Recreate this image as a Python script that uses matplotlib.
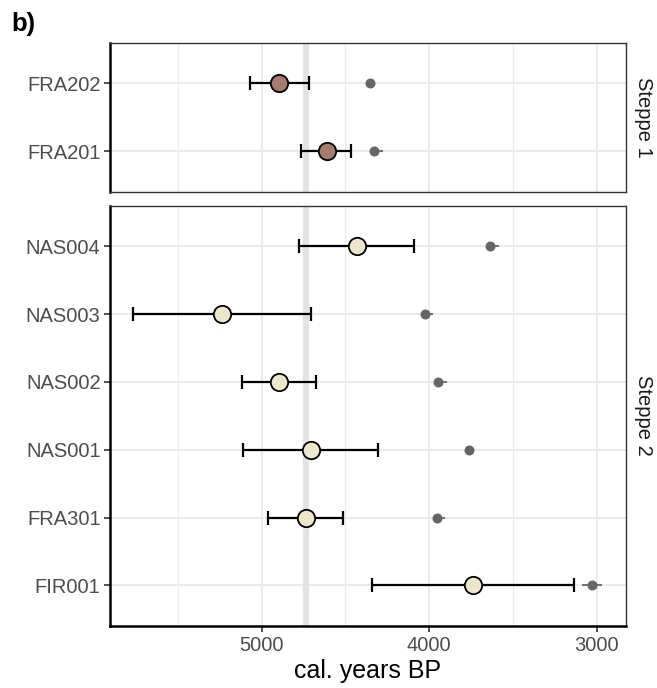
import matplotlib
matplotlib.use("Agg")
import matplotlib.pyplot as plt

plt.rcParams["font.family"] = ["Liberation Sans", "DejaVu Sans"]

# ---------- data ----------
steppe1_ids  = ["FRA202", "FRA201"]
steppe1_mean = [4894, 4610]
steppe1_lo   = [5070, 4753]
steppe1_hi   = [4718, 4456]
steppe1_grey = [4353, 4328]
steppe1_grey_lo = [4360, 4340]
steppe1_grey_hi = [4322, 4277]

steppe2_ids  = ["NAS004", "NAS003", "NAS002", "NAS001", "FRA301", "FIR001"]
steppe2_mean = [4433, 5236, 4897, 4706, 4737, 3740]
steppe2_lo   = [4778, 5767, 5117, 5109, 4957, 4345]
steppe2_hi   = [4086, 4706, 4675, 4301, 4513, 3136]
steppe2_grey = [3640, 4028, 3950, 3761, 3956, 3027]
steppe2_grey_lo = [3650, 4035, 3960, 3770, 3965, 3089]
steppe2_grey_hi = [3586, 3977, 3895, 3750, 3907, 2966]

ref_line = 4738
x_major = [5000, 4000, 3000]
x_minor = [5500, 4500, 3500]

FILL1 = "#A67B70"; FILL2 = "#EDE6CD"; GREYPT = "#666666"
GRID = "#EBEBEB"; TXT = "#4D4D4D"

W, H = 657, 688
fig = plt.figure(figsize=(W/100, H/100), dpi=100)

def px_axes(x0, y0, x1, y1):
    return fig.add_axes([x0/W, 1 - y1/H, (x1-x0)/W, (y1-y0)/H])

ax1 = px_axes(110.3, 42.7, 625.7, 191.7)
ax2 = px_axes(110.3, 205.7, 625.7, 626.0)

def panel(ax, ids, mean, lo, hi, grey, glo, ghi, fill, strip):
    n = len(ids)
    ys = list(range(n))
    ax.set_xlim(5904, 2827)
    ax.set_ylim(n - 1 + 0.6, -0.6)
    for v in x_minor:
        ax.axvline(v, color=GRID, lw=0.8, zorder=0)
    for v in x_major:
        ax.axvline(v, color=GRID, lw=1.4, zorder=0)
    for y in ys:
        ax.axhline(y, color=GRID, lw=1.4, zorder=0)
    ax.axvline(ref_line, color="#E3E3E3", lw=4.5, zorder=1)
    # grey points with small ranges
    for y, a, b in zip(ys, glo, ghi):
        ax.plot([a, b], [y, y], color=GREYPT, lw=1.3, zorder=2, solid_capstyle="butt")
    ax.plot(grey, ys, "o", color=GREYPT, ms=7.2, mec="none", zorder=3)
    # calibrated ranges
    xerr = [[l - m for m, l in zip(mean, lo)], [m - h for m, h in zip(mean, hi)]]
    ax.errorbar(mean, ys, xerr=xerr, fmt="none", ecolor="black", elinewidth=1.6,
                capsize=5.3, capthick=1.6, zorder=4)
    ax.plot(mean, ys, "o", ms=12.5, mfc=fill, mec="black", mew=1.3, zorder=5)
    ax.set_yticks(ys)
    ax.set_yticklabels(ids, fontsize=14.5, color=TXT)
    ax.tick_params(axis="y", length=4, width=1.2, color="#333333", pad=3)
    ax.spines["left"].set_linewidth(1.8); ax.spines["left"].set_color("black")
    for s in ["top", "right"]:
        ax.spines[s].set_linewidth(1.0); ax.spines[s].set_color("#333333")
    ax.text(1.035, 0.5, strip, transform=ax.transAxes, rotation=-90,
            ha="center", va="center", fontsize=14.5, color="#1A1A1A")

panel(ax1, steppe1_ids, steppe1_mean, steppe1_lo, steppe1_hi, steppe1_grey,
      steppe1_grey_lo, steppe1_grey_hi, FILL1, "Steppe 1")
panel(ax2, steppe2_ids, steppe2_mean, steppe2_lo, steppe2_hi, steppe2_grey,
      steppe2_grey_lo, steppe2_grey_hi, FILL2, "Steppe 2")

ax1.set_xticks(x_major); ax1.tick_params(axis="x", length=0, labelbottom=False)
ax1.spines["bottom"].set_linewidth(1.0); ax1.spines["bottom"].set_color("#333333")

ax2.set_xticks(x_major)
ax2.set_xticklabels([str(v) for v in x_major], fontsize=14.5, color=TXT)
ax2.tick_params(axis="x", length=4, width=1.2, color="#333333", pad=3)
ax2.spines["bottom"].set_linewidth(1.8); ax2.spines["bottom"].set_color("black")
ax2.set_xlabel("cal. years BP", fontsize=18, color="black", labelpad=3)

fig.text(11/W, 1 - 24/H, "b)", fontsize=18.5, fontweight="bold", va="center", ha="left")

fig.savefig("out.png", dpi=100, facecolor="white")
